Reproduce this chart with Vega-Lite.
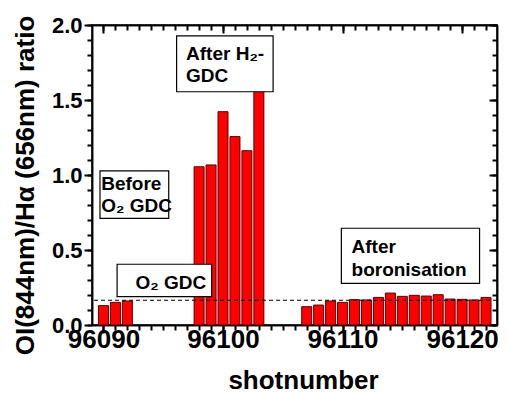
{
  "$schema": "https://vega.github.io/schema/vega-lite/v6.json",
  "width": 405,
  "height": 300,
  "autosize": {"type": "none"},
  "padding": {"left": 92, "top": 25, "right": 11, "bottom": 68},
  "background": "white",
  "config": {
    "view": {"stroke": "black", "strokeWidth": 1.5},
    "font": "Liberation Sans",
    "axis": {"domain": true, "domainColor": "black", "domainWidth": 1.5, "ticks": true, "tickColor": "#000000", "tickOpacity": 1, "tickWidth": 2, "grid": false, "labelColor": "black", "titleColor": "black", "zindex": 2}
  },
  "datasets": {
    "bars": [
      {"shot": 96090, "ratio": 0.129},
      {"shot": 96091, "ratio": 0.151},
      {"shot": 96092, "ratio": 0.160},
      {"shot": 96098, "ratio": 1.055},
      {"shot": 96099, "ratio": 1.067},
      {"shot": 96100, "ratio": 1.422},
      {"shot": 96101, "ratio": 1.256},
      {"shot": 96102, "ratio": 1.162},
      {"shot": 96103, "ratio": 1.57},
      {"shot": 96107, "ratio": 0.122},
      {"shot": 96108, "ratio": 0.133},
      {"shot": 96109, "ratio": 0.160},
      {"shot": 96110, "ratio": 0.151},
      {"shot": 96111, "ratio": 0.169},
      {"shot": 96112, "ratio": 0.167},
      {"shot": 96113, "ratio": 0.184},
      {"shot": 96114, "ratio": 0.213},
      {"shot": 96115, "ratio": 0.191},
      {"shot": 96116, "ratio": 0.198},
      {"shot": 96117, "ratio": 0.193},
      {"shot": 96118, "ratio": 0.202},
      {"shot": 96119, "ratio": 0.173},
      {"shot": 96120, "ratio": 0.171},
      {"shot": 96121, "ratio": 0.167},
      {"shot": 96122, "ratio": 0.184}
    ],
    "ref": [{"level": 0.165}],
    "boxes": [
      {"name": "h2", "x1": 96096.12, "x2": 96104.19, "y1": 1.555, "y2": 1.927},
      {"name": "before", "x1": 96089.71, "x2": 96095.46, "y1": 0.711, "y2": 1.027},
      {"name": "o2", "x1": 96091.14, "x2": 96099.05, "y1": 0.189, "y2": 0.405},
      {"name": "boron", "x1": 96109.9, "x2": 96121.46, "y1": 0.278, "y2": 0.645}
    ],
    "labels": [
      {"text": "After H₂-", "line": 1, "tx": 96096.91, "ty": 1.807},
      {"text": "GDC", "line": 2, "tx": 96096.91, "ty": 1.66},
      {"text": "Before", "line": 1, "tx": 96089.81, "ty": 0.943},
      {"text": "O₂ GDC", "line": 2, "tx": 96089.81, "ty": 0.793},
      {"text": "O₂ GDC", "line": 1, "tx": 96092.67, "ty": 0.28},
      {"text": "After", "line": 1, "tx": 96110.75, "ty": 0.52},
      {"text": "boronisation", "line": 2, "tx": 96110.75, "ty": 0.367}
    ]
  },
  "resolve": {"axis": {"x": "independent", "y": "independent"}},
  "layer": [
    {
      "data": {"name": "bars"},
      "mark": {"type": "bar", "size": 10, "color": "#ff0000", "stroke": "#5a0000", "strokeWidth": 1},
      "encoding": {
        "x": {
          "field": "shot", "type": "quantitative",
          "scale": {"domain": [96089.46, 96122.5], "nice": false, "zero": false},
          "axis": {
            "orient": "bottom",
            "title": "shotnumber",
            "titleFontSize": 26, "titleFontWeight": "bold", "titleFont": "Liberation Sans",
            "titleBaseline": "bottom", "titleX": 211, "titleY": 68,
            "values": [96090, 96100, 96110, 96120],
            "format": "d",
            "labelFontSize": 26, "labelFontWeight": "bold", "labelFont": "Liberation Sans",
            "labelFlush": false, "labelOverlap": false, "labelBound": false,
            "labelPadding": -7,
            "tickColor": "#000000", "tickWidth": 2, "tickSize": 8
          }
        },
        "y": {
          "field": "ratio", "type": "quantitative",
          "scale": {"domain": [0, 2], "nice": false},
          "axis": {
            "orient": "left",
            "title": "OI(844nm)/Hα (656nm) ratio",
            "titleFontSize": 26, "titleFontWeight": "bold", "titleFont": "Liberation Sans",
            "titleBaseline": "alphabetic", "titleAngle": -90, "titleAlign": "center",
            "titleX": -59, "titleY": 160,
            "values": [0, 0.5, 1, 1.5, 2],
            "format": ".1f",
            "labelFontSize": 22, "labelFontWeight": "bold", "labelFont": "Liberation Sans",
            "labelFlush": false, "labelOverlap": false, "labelBound": false,
            "labelPadding": 2,
            "tickColor": "#000000", "tickWidth": 2, "tickSize": 8
          }
        }
      }
    },
    {
      "data": {"name": "ref"},
      "mark": {"type": "rule", "color": "black", "strokeWidth": 1, "strokeDash": [4, 3]},
      "encoding": {
        "y": {"field": "level", "type": "quantitative", "scale": {"domain": [0, 2], "nice": false}, "axis": null}
      }
    },
    {
      "data": {"name": "boxes"},
      "mark": {"type": "rect", "fill": "white", "stroke": "black", "strokeWidth": 1.2},
      "encoding": {
        "x": {
          "field": "x1", "type": "quantitative",
          "scale": {"domain": [96089.46, 96122.5], "nice": false, "zero": false},
          "axis": {"orient": "top", "title": null, "labels": false, "values": [96090, 96100, 96110, 96120], "tickColor": "#000000", "tickWidth": 2, "tickSize": -8}
        },
        "x2": {"field": "x2"},
        "y": {
          "field": "y1", "type": "quantitative",
          "scale": {"domain": [0, 2], "nice": false},
          "axis": {"orient": "right", "title": null, "labels": false, "values": [0, 0.5, 1, 1.5, 2], "tickColor": "#000000", "tickWidth": 2, "tickSize": -8}
        },
        "y2": {"field": "y2"}
      }
    },
    {
      "data": {"name": "labels"},
      "transform": [{"filter": "datum.line === 1"}],
      "mark": {"type": "text", "align": "left", "baseline": "middle", "font": "Liberation Sans", "fontWeight": "bold", "fontSize": 19, "color": "black"},
      "encoding": {
        "x": {
          "field": "tx", "type": "quantitative",
          "scale": {"domain": [96089.46, 96122.5], "nice": false, "zero": false},
          "axis": {"orient": "bottom", "title": null, "labels": false, "tickColor": "#000000", "tickWidth": 2, "tickSize": 5,
            "values": [96090,96091,96092,96093,96094,96095,96096,96097,96098,96099,96100,96101,96102,96103,96104,96105,96106,96107,96108,96109,96110,96111,96112,96113,96114,96115,96116,96117,96118,96119,96120,96121,96122]}
        },
        "y": {
          "field": "ty", "type": "quantitative",
          "scale": {"domain": [0, 2], "nice": false},
          "axis": {"orient": "left", "title": null, "labels": false, "tickColor": "#000000", "tickWidth": 2, "tickSize": 5,
            "values": [0,0.1,0.2,0.3,0.4,0.5,0.6,0.7,0.8,0.9,1.0,1.1,1.2,1.3,1.4,1.5,1.6,1.7,1.8,1.9,2.0]}
        },
        "text": {"field": "text"}
      }
    },
    {
      "data": {"name": "labels"},
      "transform": [{"filter": "datum.line === 2"}],
      "mark": {"type": "text", "align": "left", "baseline": "middle", "font": "Liberation Sans", "fontWeight": "bold", "fontSize": 19, "color": "black"},
      "encoding": {
        "x": {
          "field": "tx", "type": "quantitative",
          "scale": {"domain": [96089.46, 96122.5], "nice": false, "zero": false},
          "axis": {"orient": "top", "title": null, "labels": false, "tickColor": "#000000", "tickWidth": 2, "tickSize": -5,
            "values": [96090,96091,96092,96093,96094,96095,96096,96097,96098,96099,96100,96101,96102,96103,96104,96105,96106,96107,96108,96109,96110,96111,96112,96113,96114,96115,96116,96117,96118,96119,96120,96121,96122]}
        },
        "y": {
          "field": "ty", "type": "quantitative",
          "scale": {"domain": [0, 2], "nice": false},
          "axis": {"orient": "right", "title": null, "labels": false, "tickColor": "#000000", "tickWidth": 2, "tickSize": -5,
            "values": [0,0.1,0.2,0.3,0.4,0.5,0.6,0.7,0.8,0.9,1.0,1.1,1.2,1.3,1.4,1.5,1.6,1.7,1.8,1.9,2.0]}
        },
        "text": {"field": "text"}
      }
    }
  ]
}
